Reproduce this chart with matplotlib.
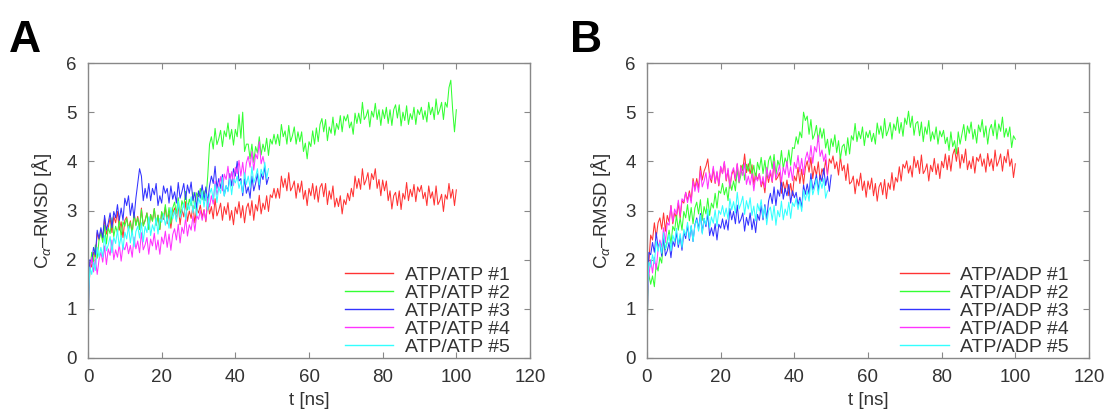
import numpy as np
import matplotlib
matplotlib.use("Agg")
import matplotlib.pyplot as plt

plt.rcParams['font.family'] = ['Liberation Sans', 'DejaVu Sans']
plt.rcParams['mathtext.fontset'] = 'custom'
plt.rcParams['mathtext.rm'] = 'Liberation Sans'
plt.rcParams['mathtext.it'] = 'Liberation Sans:italic'

# ---------------- data (0.5 ns steps) ----------------
start_t = [0.0, 0.2]
step_ns = 0.5

# Panel A : ATP/ATP
a1_start = [0.0, 1.40]
a1 = [1.95, 1.85, 2.15, 2.05, 2.55, 2.40, 2.60, 2.40, 2.85, 2.52, 2.65, 2.85, 2.55, 2.88, 2.75, 2.98, 2.60, 2.77, 2.45, 2.80,
      2.87, 2.62, 2.79, 2.54, 2.96, 2.71, 2.88, 2.63, 3.05, 2.70, 2.80, 2.95, 2.62, 2.92, 2.79, 3.04, 2.70, 2.90, 2.61, 2.96,
      2.82, 3.07, 2.73, 2.98, 2.64, 2.94, 3.05, 2.80, 3.11, 2.71, 3.02, 2.87, 3.18, 2.78, 2.99, 2.84, 3.10, 2.75, 3.05, 2.95,
      3.11, 2.86, 3.02, 2.77, 3.18, 2.93, 3.08, 2.83, 3.24, 2.89, 3.00, 3.15, 2.80, 3.08, 2.92, 3.16, 2.80, 3.00, 2.71, 3.07,
      2.93, 3.18, 2.85, 3.10, 2.75, 3.05, 3.15, 2.90, 3.20, 2.80, 3.12, 2.99, 3.31, 2.93, 3.15, 3.02, 3.30, 2.98, 3.32, 3.26,
      3.45, 3.25, 3.45, 3.25, 3.70, 3.47, 3.65, 3.40, 3.77, 3.40, 3.48, 3.60, 3.25, 3.55, 3.37, 3.60, 3.23, 3.41, 3.10, 3.45,
      3.30, 3.55, 3.23, 3.50, 3.17, 3.47, 3.55, 3.28, 3.55, 3.12, 3.40, 3.23, 3.50, 3.07, 3.25, 3.08, 3.30, 2.93, 3.22, 3.12,
      3.35, 3.20, 3.45, 3.28, 3.70, 3.45, 3.65, 3.43, 3.85, 3.52, 3.62, 3.77, 3.43, 3.75, 3.63, 3.85, 3.45, 3.63, 3.30, 3.62,
      3.40, 3.60, 3.20, 3.40, 3.03, 3.30, 3.37, 3.10, 3.40, 3.02, 3.35, 3.23, 3.57, 3.20, 3.43, 3.28, 3.53, 3.18, 3.48, 3.38,
      3.51, 3.24, 3.37, 3.10, 3.50, 3.25, 3.38, 3.11, 3.50, 3.12, 3.20, 3.33, 2.98, 3.32, 3.23, 3.55, 3.25, 3.43, 3.10, 3.42]
a2_start = [0.0, 1.35]
a2 = [1.75, 2.15, 1.95, 2.30, 2.03, 2.40, 2.55, 2.35, 2.70, 2.32, 2.65, 2.53, 2.85, 2.47, 2.68, 2.54, 2.80, 2.46, 2.77, 2.68,
      2.84, 2.60, 2.76, 2.52, 2.93, 2.69, 2.85, 2.61, 3.02, 2.68, 2.79, 2.95, 2.61, 2.92, 2.78, 3.04, 2.70, 2.91, 2.62, 2.98,
      2.85, 3.12, 2.79, 3.06, 2.73, 3.05, 3.17, 2.94, 3.26, 2.88, 3.20, 3.07, 3.39, 3.01, 3.23, 3.10, 3.37, 3.04, 3.36, 3.28,
      3.45, 3.22, 3.40, 3.20, 3.70, 4.35, 4.50, 4.25, 4.67, 4.34, 4.46, 4.63, 4.30, 4.62, 4.50, 4.78, 4.45, 4.65, 4.33, 4.65,
      4.50, 4.95, 4.47, 5.00, 4.20, 4.35, 4.35, 4.05, 4.35, 3.98, 4.30, 4.17, 4.50, 4.13, 4.35, 4.20, 4.47, 4.12, 4.45, 4.35,
      4.55, 4.35, 4.55, 4.32, 4.75, 4.50, 4.62, 4.35, 4.73, 4.40, 4.52, 4.70, 4.35, 4.60, 4.40, 4.60, 4.20, 4.37, 4.05, 4.40,
      4.30, 4.62, 4.35, 4.68, 4.40, 4.75, 4.87, 4.60, 4.85, 4.42, 4.70, 4.57, 4.90, 4.53, 4.77, 4.65, 4.93, 4.60, 4.92, 4.82,
      4.95, 4.68, 4.80, 4.55, 4.98, 4.77, 4.98, 4.77, 5.20, 4.85, 4.92, 5.05, 4.70, 5.02, 4.90, 5.18, 4.85, 5.05, 4.73, 5.05,
      4.87, 5.10, 4.77, 5.05, 4.73, 5.05, 5.15, 4.88, 5.15, 4.72, 5.00, 4.83, 5.13, 4.75, 4.97, 4.85, 5.10, 4.75, 5.05, 4.95,
      5.10, 4.85, 5.03, 4.80, 5.20, 4.95, 5.10, 4.85, 5.27, 4.95, 5.05, 5.20, 4.85, 5.20, 5.10, 5.50, 5.65, 5.05, 4.60, 5.05]
a3_start = [0.0, 1.45]
a3 = [2.00, 1.95, 2.25, 2.10, 2.60, 2.43, 2.65, 2.45, 2.90, 2.60, 2.75, 2.95, 2.65, 2.98, 2.85, 3.12, 2.80, 3.05, 2.80, 3.25,
      3.10, 3.30, 2.90, 3.15, 2.85, 3.25, 3.55, 3.85, 3.70, 3.20, 3.45, 3.25, 3.55, 3.20, 3.45, 3.32, 3.55, 3.10, 3.30, 3.15,
      3.50, 3.35, 3.45, 3.15, 3.50, 3.23, 3.38, 3.15, 3.57, 3.25, 3.38, 3.55, 3.22, 3.52, 3.35, 3.58, 3.20, 3.37, 3.05, 3.40,
      3.25, 3.52, 3.20, 3.48, 3.15, 3.50, 3.70, 3.55, 3.90, 3.45, 3.65, 3.45, 3.73, 3.30, 3.50, 3.40, 3.75, 3.50, 3.85, 3.70,
      4.00, 3.60, 3.65, 3.30, 3.65, 3.35, 3.48, 3.25, 3.70, 3.40, 3.55, 3.75, 3.42, 3.75, 3.63, 3.90, 3.53, 3.67]
a4_start = [0.0, 1.35]
a4 = [1.75, 2.05, 1.75, 2.02, 1.70, 2.00, 2.15, 1.95, 2.28, 1.90, 2.22, 2.09, 2.40, 2.00, 2.20, 2.05, 2.31, 1.97, 2.28, 2.20,
      2.35, 2.12, 2.29, 2.05, 2.46, 2.22, 2.38, 2.14, 2.55, 2.20, 2.30, 2.45, 2.11, 2.42, 2.28, 2.54, 2.20, 2.40, 2.11, 2.46,
      2.32, 2.58, 2.25, 2.52, 2.19, 2.51, 2.63, 2.40, 2.72, 2.34, 2.66, 2.53, 2.85, 2.48, 2.71, 2.60, 2.89, 2.58, 2.90, 2.82,
      3.00, 2.80, 3.00, 2.80, 3.25, 3.07, 3.30, 3.13, 3.60, 3.32, 3.48, 3.69, 3.40, 3.74, 3.63, 3.90, 3.57, 3.79, 3.51, 3.88,
      3.75, 4.02, 3.70, 3.98, 3.65, 3.97, 4.10, 3.88, 4.20, 3.82, 4.15, 4.05, 4.40, 3.95, 4.10, 3.90]
a5_start = [0.0, 1.30]
a5 = [1.85, 1.70, 1.95, 1.78, 2.25, 2.05, 2.25, 2.05, 2.49, 2.18, 2.30, 2.47, 2.14, 2.46, 2.33, 2.60, 2.27, 2.49, 2.20, 2.56,
      2.42, 2.68, 2.34, 2.60, 2.26, 2.57, 2.68, 2.44, 2.75, 2.36, 2.68, 2.55, 2.87, 2.49, 2.71, 2.58, 2.85, 2.52, 2.84, 2.76,
      2.93, 2.70, 2.87, 2.64, 3.06, 2.83, 3.00, 2.77, 3.19, 2.86, 2.98, 3.15, 2.82, 3.14, 3.01, 3.28, 2.95, 3.17, 2.89, 3.26,
      3.13, 3.40, 3.07, 3.34, 3.01, 3.33, 3.45, 3.22, 3.54, 3.16, 3.48, 3.35, 3.67, 3.29, 3.51, 3.38, 3.65, 3.32, 3.64, 3.56,
      3.70, 3.45, 3.60, 3.36, 3.77, 3.53, 3.70, 3.47, 3.89, 3.56, 3.68, 3.85, 3.52, 3.84, 3.71, 3.98, 3.65, 3.85]

# Panel B : ATP/ADP
b1_start = [0.0, 1.45]
b1 = [1.95, 2.50, 2.40, 2.75, 2.45, 2.75, 2.85, 2.62, 2.95, 2.58, 2.90, 2.77, 3.10, 2.73, 2.95, 2.85, 3.15, 2.85, 3.20, 3.15,
      3.37, 3.20, 3.40, 3.20, 3.65, 3.45, 3.65, 3.45, 3.90, 3.62, 3.80, 3.90, 4.05, 3.70, 3.57, 3.85, 3.55, 3.77, 3.50, 3.88,
      3.75, 3.98, 3.60, 3.82, 3.45, 3.73, 3.83, 3.60, 3.94, 3.58, 3.92, 3.81, 4.15, 3.77, 3.95, 3.75, 3.93, 3.52, 3.76, 3.62,
      3.75, 3.48, 3.61, 3.36, 3.78, 3.57, 3.78, 3.57, 4.00, 3.62, 3.68, 3.77, 3.35, 3.58, 3.39, 3.62, 3.30, 3.55, 3.30, 3.70,
      3.60, 3.88, 3.55, 3.84, 3.53, 3.87, 4.01, 3.78, 4.08, 3.65, 3.90, 3.71, 3.99, 3.61, 3.85, 3.74, 4.03, 3.72, 4.05, 3.96,
      4.11, 3.85, 3.99, 3.72, 4.10, 3.81, 3.92, 3.61, 3.95, 3.54, 3.58, 3.70, 3.34, 3.64, 3.50, 3.76, 3.41, 3.60, 3.27, 3.60,
      3.43, 3.66, 3.30, 3.55, 3.19, 3.48, 3.57, 3.32, 3.63, 3.24, 3.56, 3.43, 3.77, 3.41, 3.67, 3.58, 3.89, 3.60, 3.94, 3.86,
      4.01, 3.76, 3.91, 3.68, 4.10, 3.87, 4.02, 3.75, 4.13, 3.75, 3.82, 3.95, 3.60, 3.92, 3.79, 4.06, 3.73, 3.95, 3.65, 4.00,
      3.87, 4.15, 3.83, 4.12, 3.80, 4.13, 4.25, 4.00, 4.28, 3.86, 4.14, 3.97, 4.25, 3.83, 4.01, 3.85, 4.10, 3.76, 4.08, 4.00,
      4.15, 3.90, 4.05, 3.78, 4.16, 3.90, 4.05, 3.81, 4.23, 3.90, 4.00, 4.15, 3.80, 4.10, 3.97, 4.24, 3.90, 4.05, 3.67, 3.95]
b2_start = [0.0, 1.25]
b2 = [1.70, 1.50, 1.67, 1.45, 1.92, 1.77, 2.05, 1.93, 2.45, 2.20, 2.38, 2.60, 2.32, 2.68, 2.59, 2.90, 2.60, 2.85, 2.60, 2.98,
      2.85, 3.12, 2.79, 3.06, 2.73, 3.05, 3.17, 2.93, 3.22, 2.80, 3.08, 2.93, 3.25, 2.90, 3.15, 3.05, 3.35, 3.05, 3.40, 3.35,
      3.55, 3.32, 3.47, 3.20, 3.62, 3.41, 3.60, 3.40, 3.85, 3.56, 3.72, 3.93, 3.62, 3.94, 3.80, 4.05, 3.71, 3.92, 3.63, 3.98,
      3.83, 4.08, 3.75, 4.02, 3.69, 4.01, 4.11, 3.85, 4.14, 3.72, 4.02, 3.89, 4.22, 3.85, 4.07, 3.95, 4.23, 3.92, 4.28, 4.26,
      4.50, 4.35, 4.60, 4.48, 5.00, 4.83, 4.92, 4.55, 4.85, 4.45, 4.55, 4.73, 4.40, 4.68, 4.47, 4.66, 4.27, 4.45, 4.13, 4.46,
      4.30, 4.54, 4.18, 4.42, 4.05, 4.30, 4.35, 4.12, 4.48, 4.15, 4.52, 4.43, 4.77, 4.40, 4.61, 4.46, 4.70, 4.32, 4.60, 4.48,
      4.63, 4.40, 4.57, 4.35, 4.78, 4.55, 4.72, 4.47, 4.87, 4.52, 4.63, 4.79, 4.45, 4.76, 4.63, 4.90, 4.57, 4.79, 4.51, 4.88,
      4.75, 5.02, 4.69, 4.92, 4.53, 4.77, 4.81, 4.52, 4.80, 4.40, 4.70, 4.55, 4.83, 4.41, 4.60, 4.45, 4.70, 4.35, 4.62, 4.50,
      4.63, 4.36, 4.49, 4.22, 4.60, 4.30, 4.42, 4.15, 4.60, 4.35, 4.55, 4.75, 4.42, 4.72, 4.57, 4.80, 4.45, 4.65, 4.37, 4.74,
      4.60, 4.85, 4.49, 4.72, 4.35, 4.65, 4.75, 4.52, 4.84, 4.45, 4.76, 4.61, 4.90, 4.49, 4.67, 4.50, 4.70, 4.28, 4.52, 4.45]
b3_start = [0.0, 1.55]
b3 = [2.15, 2.10, 2.35, 2.15, 2.55, 2.25, 2.35, 2.07, 2.45, 2.08, 2.18, 2.35, 2.04, 2.38, 2.27, 2.56, 2.25, 2.47, 2.19, 2.56,
      2.43, 2.70, 2.39, 2.68, 2.37, 2.71, 2.85, 2.62, 2.94, 2.55, 2.84, 2.67, 2.93, 2.49, 2.65, 2.48, 2.73, 2.40, 2.72, 2.64,
      2.83, 2.62, 2.81, 2.60, 3.04, 2.81, 2.98, 2.73, 3.11, 2.74, 2.82, 2.95, 2.58, 2.86, 2.70, 2.95, 2.61, 2.83, 2.55, 2.92,
      2.80, 3.10, 2.81, 3.12, 2.83, 3.19, 3.35, 3.14, 3.48, 3.10, 3.42, 3.29, 3.61, 3.23, 3.45, 3.30, 3.53, 3.15, 3.40, 3.26,
      3.37, 3.10, 3.27, 3.06, 3.52, 3.33, 3.54, 3.33, 3.75, 3.42, 3.55, 3.73, 3.40, 3.72, 3.59, 3.86, 3.51, 3.70, 3.39, 3.72]
b4_start = [0.0, 1.35]
b4 = [1.65, 2.00, 1.73, 2.05, 1.80, 2.20, 2.40, 2.25, 2.65, 2.35, 2.75, 2.70, 3.10, 2.77, 3.03, 2.92, 3.21, 2.90, 3.24, 3.18,
      3.37, 3.16, 3.35, 3.15, 3.60, 3.39, 3.58, 3.37, 3.81, 3.48, 3.60, 3.77, 3.44, 3.76, 3.63, 3.90, 3.57, 3.80, 3.53, 3.90,
      3.75, 4.00, 3.63, 3.86, 3.49, 3.77, 3.87, 3.64, 3.96, 3.58, 3.88, 3.71, 3.97, 3.53, 3.70, 3.52, 3.75, 3.40, 3.70, 3.60,
      3.75, 3.52, 3.69, 3.46, 3.88, 3.65, 3.82, 3.59, 4.00, 3.66, 3.77, 3.93, 3.58, 3.88, 3.73, 4.00, 3.67, 3.89, 3.61, 3.98,
      3.85, 4.12, 3.79, 4.06, 3.73, 4.05, 4.19, 3.98, 4.32, 3.96, 4.30, 4.19, 4.53, 4.10, 4.23, 4.00, 4.15, 3.72]
b5_start = [0.0, 1.40]
b5 = [1.95, 1.85, 2.10, 1.92, 2.38, 2.17, 2.35, 2.13, 2.55, 2.22, 2.34, 2.51, 2.18, 2.50, 2.37, 2.64, 2.31, 2.53, 2.25, 2.62,
      2.49, 2.76, 2.43, 2.70, 2.37, 2.69, 2.81, 2.58, 2.90, 2.52, 2.84, 2.71, 3.03, 2.65, 2.87, 2.74, 3.01, 2.68, 3.00, 2.92,
      3.10, 2.88, 3.05, 2.82, 3.24, 3.01, 3.18, 2.95, 3.37, 3.03, 3.14, 3.29, 2.92, 3.20, 3.03, 3.26, 2.90, 3.09, 2.79, 3.14,
      2.99, 3.22, 2.85, 3.08, 2.71, 2.99, 3.07, 2.80, 3.10, 2.70, 3.00, 2.87, 3.19, 2.81, 3.03, 2.90, 3.17, 2.84, 3.16, 3.08,
      3.25, 3.02, 3.20, 2.98, 3.42, 3.21, 3.40, 3.19, 3.63, 3.32, 3.46, 3.65, 3.32, 3.62, 3.45, 3.65, 3.25, 3.40]

labels_A = ["ATP/ATP #1", "ATP/ATP #2", "ATP/ATP #3", "ATP/ATP #4", "ATP/ATP #5"]
labels_B = ["ATP/ADP #1", "ATP/ADP #2", "ATP/ADP #3", "ATP/ADP #4", "ATP/ADP #5"]
colors = ['#ff3333', '#33ff33', '#3333ff', '#ff33ff', '#33ffff']
xticks = [0, 20, 40, 60, 80, 100, 120]
yticks = [0, 1, 2, 3, 4, 5, 6]

series_A = [(a1_start, a1), (a2_start, a2), (a3_start, a3), (a4_start, a4), (a5_start, a5)]
series_B = [(b1_start, b1), (b2_start, b2), (b3_start, b3), (b4_start, b4), (b5_start, b5)]

W, H = 1109, 417
fig = plt.figure(figsize=(W / 100, H / 100), dpi=100)

frame_col = '#888888'
text_col = '#333333'


def make_panel(left_px, series, labels, letter, letter_x):
    ax = fig.add_axes([left_px / W, (H - 358) / H, 442 / W, 295 / H])
    for (st, vals), col, lab in zip(series, colors, labels):
        t = np.concatenate([start_t, step_ns * np.arange(1, len(vals) + 1)])
        y = np.concatenate([st, vals])
        ax.plot(t, y, color=col, lw=0.75, label=lab)
    ax.set_xlim(0, 120)
    ax.set_ylim(0, 6)
    ax.set_xticks(xticks)
    ax.set_yticks(yticks)
    ax.tick_params(direction='in', length=4, width=0.8, color=frame_col,
                   top=True, right=True, labelsize=13.5, labelcolor=text_col, pad=8)
    for s in ax.spines.values():
        s.set_color(frame_col)
        s.set_linewidth(1.0)
    ax.set_xlabel('t [ns]', fontsize=13.5, color=text_col, labelpad=4)
    ax.set_ylabel(r'C$_{\alpha}$–RMSD [Å]', fontsize=13.5, color=text_col, labelpad=9)
    leg = ax.legend(loc='lower right', bbox_to_anchor=(0.955, 0.008), frameon=False,
                    fontsize=14, handlelength=2.5, handletextpad=0.6,
                    labelspacing=0.02, borderaxespad=0.0, borderpad=0.0)
    for txt in leg.get_texts():
        txt.set_color(text_col)
    for ln in leg.get_lines():
        ln.set_linewidth(1.0)
    fig.text(letter_x / W, 1 - 52 / H, letter, fontsize=32, fontweight='bold',
             color='black', va='baseline', ha='left')
    return ax


make_panel(88, series_A, labels_A, 'A', 9)
make_panel(647, series_B, labels_B, 'B', 570)

fig.savefig('out.png', dpi=100)
